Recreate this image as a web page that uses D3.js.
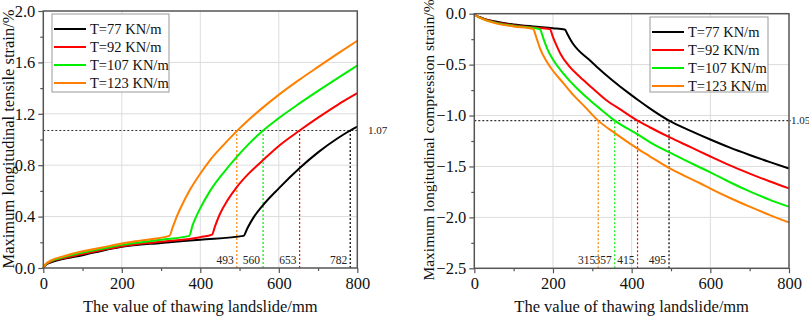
<!DOCTYPE html>
<html><head><meta charset="utf-8">
<script src="https://cdn.jsdelivr.net/npm/d3@7"></script>
<style>
body{margin:0;background:#fff;}
svg{display:block;}
svg text{font-family:"Liberation Serif","Times New Roman",Times,serif !important;}
</style></head>
<body>
<svg id="c" width="809" height="317"></svg>
<script>
// ---------- DATA ----------
const seriesNames = ["T=77 KN/m","T=92 KN/m","T=107 KN/m","T=123 KN/m"];
const seriesColors = ["#000000","#ff0000","#00ee00","#ff8000"];

// Left chart: tensile strain (x = thawing landslide mm, y = strain %)
const tensileT77 = [[0,0],[5,0.02],[20,0.045],[50,0.07],[100,0.10],[150,0.135],[200,0.165],[300,0.195],[400,0.22],[510,0.25],[520,0.31],[535,0.39],[560,0.49],[600,0.62],[654,0.78],[700,0.90],[750,1.01],[782,1.07],[800,1.10]];
const tensileT92 = [[0,0],[5,0.022],[20,0.05],[50,0.075],[100,0.108],[150,0.14],[200,0.17],[300,0.205],[400,0.24],[430,0.26],[437,0.32],[450,0.42],[470,0.53],[493,0.63],[525,0.74],[560,0.84],[600,0.95],[653,1.07],[700,1.17],[750,1.27],[800,1.36]];
const tensileT107 = [[0,0],[5,0.025],[20,0.055],[50,0.083],[100,0.12],[150,0.15],[200,0.18],[300,0.22],[372,0.25],[380,0.33],[391,0.41],[399,0.46],[425,0.60],[460,0.745],[493,0.865],[525,0.97],[560,1.07],[595,1.155],[650,1.275],[700,1.378],[750,1.478],[800,1.575]];
const tensileT123 = [[0,0],[5,0.027],[20,0.06],[50,0.09],[100,0.13],[150,0.16],[200,0.19],[250,0.215],[321,0.25],[330,0.32],[340,0.40],[355,0.50],[374,0.61],[399,0.73],[425,0.84],[460,0.96],[493,1.065],[522,1.15],[560,1.25],[603,1.355],[650,1.46],[700,1.565],[750,1.668],[800,1.768]];
const tensileRefY = 1.07;
const tensileRefX = [782,653,560,493]; // per series order

// Right chart: compression strain
const compT77 = [[0,0],[5,-0.017],[20,-0.043],[50,-0.075],[100,-0.105],[150,-0.125],[200,-0.142],[230,-0.155],[238,-0.21],[250,-0.29],[265,-0.36],[290,-0.445],[311,-0.52],[350,-0.65],[396,-0.79],[417,-0.85],[446,-0.93],[495,-1.05],[550,-1.15],[600,-1.235],[650,-1.315],[700,-1.387],[750,-1.455],[800,-1.52]];
const compT92 = [[0,0],[5,-0.018],[20,-0.045],[50,-0.08],[100,-0.113],[150,-0.135],[192,-0.15],[200,-0.23],[210,-0.32],[220,-0.40],[240,-0.51],[268,-0.62],[300,-0.73],[336,-0.85],[375,-0.95],[415,-1.05],[446,-1.115],[497,-1.215],[550,-1.31],[599,-1.40],[650,-1.49],[700,-1.57],[750,-1.645],[800,-1.715]];
const compT107 = [[0,0],[5,-0.019],[20,-0.048],[50,-0.085],[100,-0.12],[167,-0.152],[172,-0.2],[178,-0.27],[186,-0.35],[200,-0.45],[226,-0.585],[260,-0.73],[294,-0.85],[325,-0.95],[357,-1.05],[413,-1.18],[446,-1.26],[500,-1.37],[574,-1.51],[599,-1.555],[650,-1.655],[700,-1.745],[750,-1.825],[800,-1.895]];
const compT123 = [[0,0],[5,-0.02],[20,-0.05],[50,-0.09],[100,-0.125],[150,-0.15],[155,-0.2],[160,-0.26],[167,-0.34],[184,-0.47],[200,-0.56],[226,-0.68],[252,-0.80],[280,-0.91],[315,-1.05],[360,-1.18],[413,-1.32],[446,-1.40],[497,-1.52],[574,-1.665],[599,-1.715],[650,-1.81],[700,-1.895],[750,-1.975],[800,-2.05]];
const compRefY = -1.05;
const compRefX = [495,415,357,315];

const xTicks = [0,200,400,600,800];
const tensileTicks = [0,0.4,0.8,1.2,1.6,2.0];
const compTicks = [0,-0.5,-1.0,-1.5,-2.0,-2.5];
const xTitle = "The value of thawing landslide/mm";
const tensileTitle = "Maximum longitudinal tensile strain/%";
const compTitle = "Maximum longitudinal compression strain/%";

// ---------- DRAW ----------
const svg = d3.select("#c");

function panel(opt){
  const g = svg.append("g");
  const x = d3.scaleLinear().domain([0,800]).range([opt.x0,opt.x1]);
  const y = d3.scaleLinear().domain(opt.ydom).range([opt.y1,opt.y0]);
  const axisCol = "#555";
  // grid
  g.selectAll(".gx").data(xTicks.slice(1,-1)).join("line")
    .attr("x1",d=>x(d)).attr("x2",d=>x(d)).attr("y1",opt.y0).attr("y2",opt.y1)
    .attr("stroke","#dcdcdc").attr("stroke-width",1);
  g.selectAll(".gy").data(opt.ticks.filter(t=>t!==opt.ydom[0]&&t!==opt.ydom[1])).join("line")
    .attr("x1",opt.x0).attr("x2",opt.x1).attr("y1",d=>y(d)).attr("y2",d=>y(d))
    .attr("stroke","#dcdcdc").attr("stroke-width",1);

  // reference dotted lines
  const ry = y(opt.refY);
  g.append("line").attr("x1",opt.x0).attr("x2",opt.x1+opt.refExt).attr("y1",ry).attr("y2",ry)
    .attr("stroke","#333").attr("stroke-width",1.2).attr("stroke-dasharray","2,2");
  g.append("text").attr("x",opt.refLabelX).attr("y",ry).attr("dy","0.35em")
    .attr("font-size",11).attr("fill","#222").text(opt.refLabel);
  opt.refX.forEach((v,i)=>{
    const yb = opt.ydom[0];
    g.append("line").attr("x1",x(v)).attr("x2",x(v)).attr("y1",y(yb)).attr("y2",ry)
      .attr("stroke",seriesColors[i]).attr("stroke-width",1.2).attr("stroke-dasharray","2,2");
    g.append("text").attr("x",x(v)-3).attr("y",y(yb)-4).attr("text-anchor","end")
      .attr("font-size",11.5).attr("fill","#222").text(v);
  });

  // curves
  const line = d3.line().x(d=>x(d[0])).y(d=>y(d[1])).curve(d3.curveMonotoneX);
  opt.data.forEach((s,i)=>{
    g.append("path").attr("d",line(s)).attr("fill","none")
      .attr("stroke",seriesColors[i]).attr("stroke-width",2);
  });

  // frame
  g.append("rect").attr("x",opt.x0).attr("y",opt.y0).attr("width",opt.x1-opt.x0).attr("height",opt.y1-opt.y0)
    .attr("fill","none").attr("stroke",axisCol).attr("stroke-width",1.5);

  // axes
  const xa = d3.axisBottom(x).tickValues(xTicks).tickSize(5).tickPadding(4).tickFormat(d3.format("d"));
  const xg = g.append("g").attr("transform",`translate(0,${opt.y1})`).call(xa);
  const xm = d3.axisBottom(x).tickValues([100,300,500,700]).tickSize(3).tickFormat("");
  const xmg = g.append("g").attr("transform",`translate(0,${opt.y1})`).call(xm);
  const ya = d3.axisLeft(y).tickValues(opt.ticks).tickSize(5).tickPadding(3).tickFormat(d3.format(".1f"));
  const yg = g.append("g").attr("transform",`translate(${opt.x0},0)`).call(ya);
  const ym = d3.axisLeft(y).tickValues(opt.minor).tickSize(3).tickFormat("");
  const ymg = g.append("g").attr("transform",`translate(${opt.x0},0)`).call(ym);
  [xg,xmg,yg,ymg].forEach(a=>{
    a.select(".domain").remove();
    a.selectAll("line").attr("stroke",axisCol).attr("stroke-width",1.2);
    a.selectAll("text").attr("font-size",16.5).attr("fill","#111");
  });

  // titles
  g.append("text").attr("x",(opt.x0+opt.x1)/2).attr("y",312).attr("text-anchor","middle")
    .attr("font-size",16.5).attr("fill","#111").text(xTitle);
  g.append("text").attr("transform",`translate(${opt.ytx},${opt.yty}) rotate(-90)`)
    .attr("text-anchor","middle").attr("font-size",opt.ytfs).attr("fill","#111").text(opt.ytitle);

  // legend
  const L = opt.leg;
  g.append("rect").attr("x",L.x).attr("y",L.y).attr("width",L.w).attr("height",L.h)
    .attr("fill","#fff").attr("stroke","#999").attr("stroke-width",1);
  seriesNames.forEach((n,i)=>{
    const ly = L.y + 15 + i*18;
    g.append("line").attr("x1",L.x+2).attr("x2",L.x+34).attr("y1",ly).attr("y2",ly)
      .attr("stroke",seriesColors[i]).attr("stroke-width",2);
    g.append("text").attr("x",L.x+38).attr("y",ly).attr("dy","0.35em")
      .attr("font-size",14.5).attr("fill","#111").text(n);
  });
}

panel({x0:43.3,x1:357.3,y0:11,y1:268,ydom:[0,2.0],ticks:tensileTicks,
  minor:[0.2,0.6,1.0,1.4,1.8],
  data:[tensileT77,tensileT92,tensileT107,tensileT123],
  refY:tensileRefY,refX:tensileRefX,refExt:2,refLabel:"1.07",refLabelX:368,
  ytitle:tensileTitle,ytx:14,yty:139,ytfs:16.5,
  leg:{x:52,y:14,w:117,h:78}});

panel({x0:474.3,x1:789,y0:13.7,y1:268.3,ydom:[-2.5,0],ticks:compTicks,
  minor:[-0.25,-0.75,-1.25,-1.75,-2.25],
  data:[compT77,compT92,compT107,compT123],
  refY:compRefY,refX:compRefX,refExt:2,refLabel:"1.05",refLabelX:791,
  ytitle:compTitle,ytx:434,yty:140,ytfs:15.5,
  leg:{x:650,y:17,w:118,h:75}});
</script>
</body></html>
